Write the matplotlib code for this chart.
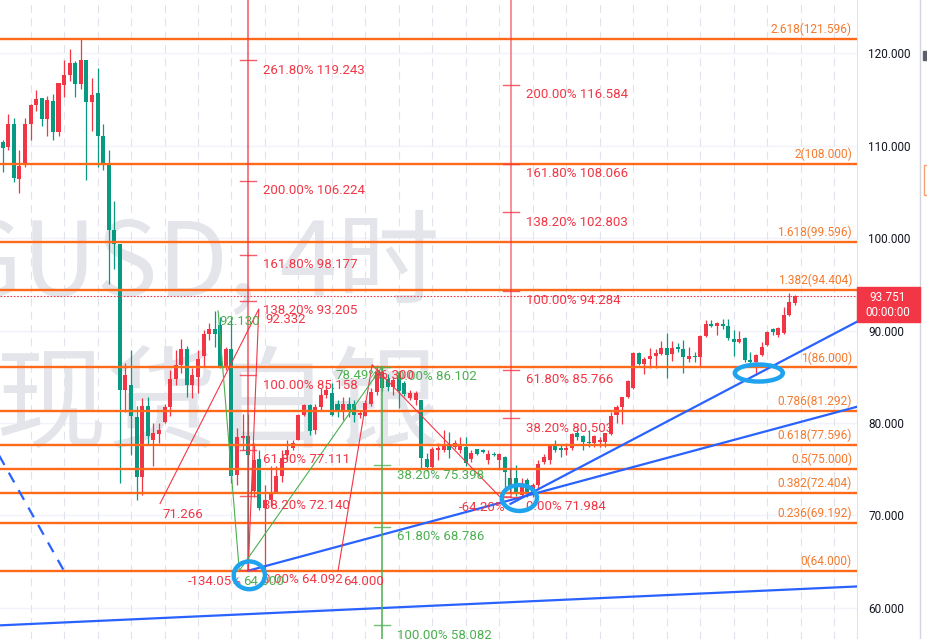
import matplotlib.pyplot as plt
from matplotlib.patches import Ellipse, Rectangle

# 4h candles, bar 0 = left edge
opens = [110.4, 109.9, 112.4, 106.4, 107.9, 112.4, 114.4, 115.2, 112.9, 114.9,
         111.5, 116.6, 117.7, 119.0, 116.7, 119.3, 114.7, 115.75, 111.1, 107.9,
         100.9, 99.4, 83.6, 84.1, 80.6, 74.1, 81.8, 78.2, 78.8, 80.1,
         81.7, 84.8, 86.3, 88.0, 84.1, 85.0, 87.2, 89.6, 90.2, 90.6,
         85.9, 88.0, 74.4, 78.4, 78.6, 72.6, 76.06, 70.8, 71.7, 72.4,
         74.2, 76.5, 77.25, 78.2, 80.9, 81.9, 79.2, 81.7, 83.0, 83.2,
         82.05, 81.2, 82.1, 82.1, 80.9, 80.8, 82.1, 83.4, 85.55, 84.8,
         83.85, 85.18, 84.28, 82.73, 82.48, 82.48, 76.05, 75.26, 77.1, 77.06,
         77.6, 77.42, 77.1, 77.35, 76.05, 77.13, 77.1, 75.98, 76.6, 75.98,
         76.34, 74.0, 73.99, 72.19, 73.8, 72.4, 73.3, 75.8, 76.0, 77.6,
         77.3, 77.07, 77.25, 78.9, 78.6, 77.97, 77.86, 77.9, 77.97, 78.8,
         80.86, 81.7, 82.77, 83.75, 87.6, 86.38, 86.9, 87.25, 87.5, 88.08,
         87.46, 88.2, 87.96, 86.97, 87.2, 87.1, 89.41, 90.7, 90.5, 90.7,
         90.49, 89.05, 88.8, 89.15, 86.81, 86.63, 87.35, 88.43, 90.13, 89.52,
         89.7, 91.68, 93.0]
highs = [110.6, 113.4, 113.0, 109.5, 113.0, 114.5, 116.0, 115.2, 115.4, 115.6,
         116.8, 119.3, 120.5, 119.2, 121.6, 119.3, 117.3, 118.4, 112.4, 109.5,
         104.0, 99.4, 86.5, 87.9, 81.8, 82.7, 82.8, 80.0, 80.0, 82.1,
         85.7, 87.9, 89.05, 88.3, 85.9, 87.9, 90.1, 90.8, 92.13, 91.5,
         88.25, 91.5, 79.4, 81.0, 81.0, 77.8, 77.07, 73.3, 75.3, 75.3,
         77.07, 78.2, 78.2, 81.0, 82.1, 82.1, 82.1, 83.75, 84.1, 84.3,
         82.5, 82.8, 82.8, 82.5, 81.3, 82.5, 83.75, 86.27, 86.2, 85.3,
         85.0, 85.54, 84.5, 83.6, 83.5, 82.48, 76.7, 77.4, 77.8, 79.2,
         79.0, 78.2, 78.5, 78.5, 77.1, 77.2, 77.2, 77.1, 76.8, 76.7,
         76.4, 75.0, 75.4, 74.0, 74.0, 73.5, 76.0, 76.6, 77.7, 78.1,
         77.6, 77.8, 78.95, 79.3, 78.7, 79.2, 78.7, 78.5, 78.95, 81.2,
         81.94, 82.8, 84.7, 87.7, 87.7, 87.1, 88.08, 87.97, 88.9, 89.77,
         88.9, 88.7, 88.97, 88.2, 87.7, 89.5, 91.1, 91.1, 90.95, 91.2,
         91.2, 90.06, 89.99, 89.26, 87.7, 87.46, 88.8, 89.99, 90.24, 90.42,
         92.58, 94.1, 93.85]
lows = [107.2, 109.5, 106.1, 104.9, 107.7, 110.6, 113.8, 112.1, 111.1, 110.6,
        111.1, 115.3, 117.05, 115.3, 116.2, 106.3, 111.6, 107.7, 107.4, 95.0,
        96.7, 73.5, 81.2, 76.5, 71.7, 72.2, 77.6, 75.3, 77.8, 80.0,
        80.75, 84.1, 85.4, 82.8, 82.7, 83.2, 86.1, 89.0, 88.25, 85.9,
        85.7, 73.5, 73.3, 77.1, 64.0, 72.0, 70.57, 64.09, 71.0, 72.4,
        73.6, 76.0, 77.1, 78.1, 80.7, 78.7, 78.8, 81.3, 82.7, 80.7,
        80.6, 80.3, 80.6, 80.1, 80.5, 80.7, 81.8, 83.0, 83.5, 83.5,
        83.0, 81.57, 82.9, 82.5, 81.9, 75.08, 74.8, 74.97, 76.0, 76.8,
        76.2, 77.2, 76.7, 75.3, 75.8, 76.5, 76.7, 75.6, 76.4, 74.9,
        72.73, 72.5, 72.1, 72.0, 72.0, 72.0, 73.0, 75.5, 75.6, 76.9,
        76.3, 76.5, 77.07, 78.2, 77.07, 77.4, 77.4, 77.4, 77.4, 78.7,
        79.96, 79.9, 82.66, 83.64, 86.3, 85.3, 85.9, 85.9, 87.35, 84.9,
        86.7, 87.7, 85.44, 86.6, 86.6, 86.2, 89.3, 90.4, 89.5, 90.2,
        88.97, 87.2, 88.6, 86.6, 86.0, 85.19, 87.24, 88.3, 89.52, 89.26,
        89.62, 91.57, 92.76]
closes = [109.8, 112.4, 106.5, 107.8, 112.4, 114.4, 115.1, 112.9, 115.0, 111.5,
          116.8, 117.7, 119.0, 116.7, 119.3, 114.7, 115.5, 111.1, 107.9, 100.9,
          99.4, 83.6, 85.2, 80.7, 74.1, 81.8, 78.6, 78.9, 79.2, 81.7,
          84.8, 86.3, 88.0, 84.1, 85.2, 86.9, 89.6, 90.2, 89.6, 86.0,
          88.0, 74.2, 78.5, 78.6, 76.5, 76.0, 70.75, 71.7, 72.4, 74.3,
          76.2, 77.1, 77.8, 80.9, 81.9, 79.1, 81.7, 83.0, 83.6, 80.9,
          81.2, 82.1, 81.4, 80.9, 81.1, 82.2, 83.4, 85.55, 83.75, 83.85,
          84.6, 83.5, 83.09, 83.27, 83.27, 76.16, 75.19, 77.13, 77.3, 77.6,
          77.06, 77.78, 77.5, 75.62, 76.7, 76.63, 76.8, 76.63, 76.5, 76.63,
          74.72, 73.2, 72.3, 73.17, 72.3, 73.3, 75.6, 76.3, 77.6, 77.07,
          77.1, 77.25, 78.77, 78.5, 77.97, 77.8, 78.6, 78.1, 78.9, 80.75,
          81.7, 82.77, 84.5, 87.6, 86.38, 86.9, 87.25, 87.6, 88.08, 87.35,
          88.08, 88.0, 87.1, 87.2, 87.1, 89.41, 90.7, 90.5, 90.8, 90.5,
          89.15, 88.8, 89.05, 86.81, 86.63, 87.35, 88.25, 89.88, 89.8, 90.24,
          91.68, 93.12, 93.751]

# orange fib retracement levels
fib_prices = [121.596, 108.0, 99.596, 94.404, 86.0, 81.292, 77.596, 75.0, 72.404, 69.192, 64.0]
fib_labels = ['2.618(121.596)', '2(108.000)', '1.618(99.596)', '1.382(94.404)', '1(86.000)',
              '0.786(81.292)', '0.618(77.596)', '0.5(75.000)', '0.382(72.404)', '0.236(69.192)', '0(64.000)']

# red trend-based extension #1 (bar, price)
ext1_bars = [28.2, 45.9, 44.0]
ext1_prices = [71.266, 92.332, 64.092]
ext1_levels = [64.092, 72.140, 77.111, 85.158, 93.205, 98.177, 106.224, 119.243]
ext1_texts = ['0.00% 64.092', '38.20% 72.140', '61.80% 77.111', '100.00% 85.158',
              '138.20% 93.205', '161.80% 98.177', '200.00% 106.224', '261.80% 119.243']

# red trend-based extension #2
ext2_bars = [60.1, 66.2, 89.1, 91.1]
ext2_prices = [64.0, 86.3, 72.0, 71.984]
ext2_levels = [71.984, 80.503, 85.766, 94.284, 102.803, 108.066, 116.584]
ext2_texts = ['0.00% 71.984', '38.20% 80.503', '61.80% 85.766', '100.00% 94.284',
              '138.20% 102.803', '161.80% 108.066', '200.00% 116.584']

# green extension
ext3_bars = [38.6, 42.4, 68.0]
ext3_prices = [92.13, 64.0, 86.102]
ext3_levels = [86.102, 75.398, 68.786, 58.082]
ext3_texts = ['0.00% 86.102', '38.20% 75.398', '61.80% 68.786', '100.00% 58.082']

# blue trend lines (bar, price) pairs
trend_lines = [([-1.0, 154.0], [58.07, 62.32]),
               ([44.0, 153.1], [64.0, 81.75]),
               ([91.0, 153.1], [71.24, 90.96])]
dash_line = ([-1.0, 10.9], [76.86, 64.07])

# highlighted spots: (bar, price, width in bars, height in price)
circles = [(44.2, 63.5, 5.6, 3.0), (92.6, 71.87, 6.3, 2.8), (135.5, 85.4, 8.6, 1.84)]

last_price = 93.751
axis_ticks = [60, 70, 80, 90, 100, 110, 120]

UP = '#F23645'
DOWN = '#089981'
ORANGE = '#FF6A1A'
RED = '#F23645'
GREEN = '#4CAF50'
BLUE = '#2962FF'

plt.rcParams['font.family'] = ['Roboto', 'DejaVu Sans']

fig = plt.figure(figsize=(9.28, 6.39), dpi=100)
ax = fig.add_axes([0, 0, 857 / 928, 1])
x0, dx = 2.7, 5.58
ax.set_xlim(-x0 / dx, (857 - x0) / dx)
ax.set_ylim(56.607, 125.786)

# grid
for p in axis_ticks:
    ax.axhline(p, color='#F0F3FA', lw=1, zorder=0)
for i in range(5, 160, 6):
    ax.axvline(i, color='#E0E3EB', lw=0.8, ls=(0, (7, 5)), zorder=0)

# watermark (inside the axes so candles sit on top)
wm = dict(color='#E3E5EA', ha='right', va='center', zorder=0.5,
          family=['Noto Sans CJK SC', 'DejaVu Sans'], transform=fig.transFigure)
ax.text(440 / 928, 1 - 266 / 639, 'XAGUSD, 4时', fontsize=74, **wm)
ax.text(440 / 928, 1 - 408 / 639, '现货白银', fontsize=80, **wm)

# candles
for i in range(len(opens)):
    o, h, l, c = opens[i], highs[i], lows[i], closes[i]
    col = UP if c >= o else DOWN
    ax.vlines(i, l, h, color=col, lw=0.9, zorder=2)
    ax.bar(i, max(abs(c - o), 0.12), bottom=min(o, c), width=0.72, color=col, zorder=2, lw=0)

# orange levels
for p, lab in zip(fib_prices, fib_labels):
    ax.axhline(p, color=ORANGE, lw=1.7, zorder=3)
    ax.annotate(lab, xy=(152.2, p), xytext=(0, 2), textcoords='offset points',
                ha='right', va='bottom', color='#F47A2E', fontsize=8.6, zorder=5)

# current price line
ax.axhline(last_price, color=RED, lw=0.8, ls=(0, (1.5, 1.5)), zorder=3)

# blue lines
for bx, by in trend_lines:
    ax.plot(bx, by, color=BLUE, lw=1.6, zorder=4)
ax.plot(dash_line[0], dash_line[1], color=BLUE, lw=1.6, ls=(0, (5, 4)), zorder=4)


def ticks(bar, levels, texts, color, half=1.4, tx=2.6):
    for p, t in zip(levels, texts):
        ax.plot([bar - half, bar + half], [p, p], color=color, lw=1, alpha=0.8, zorder=4)
        ax.annotate(t, xy=(bar + tx, p), xytext=(0, -2.5), textcoords='offset points',
                    ha='left', va='top', color=color, fontsize=9.5, zorder=5)


# red extension 1
ax.plot(ext1_bars, ext1_prices, color=RED, lw=0.8, zorder=4)
ax.plot([ext1_bars[2], ext1_bars[2]], [ext1_prices[2], 126], color=RED, lw=1.1, alpha=0.85, zorder=4)
ticks(ext1_bars[2], ext1_levels, ext1_texts, RED)

# red extension 2
ax.plot(ext2_bars, ext2_prices, color=RED, lw=0.8, zorder=4)
ax.plot([ext2_bars[3], ext2_bars[3]], [ext2_prices[3], 126], color=RED, lw=1.1, alpha=0.7, zorder=4)
ticks(ext2_bars[3], ext2_levels, ext2_texts, RED)

# green extension
ax.plot(ext3_bars, ext3_prices, color=GREEN, lw=0.8, zorder=4)
ax.plot([ext3_bars[2], ext3_bars[2]], [ext3_prices[2], 56], color=GREEN, lw=1.1, zorder=4)
ticks(ext3_bars[2], ext3_levels, ext3_texts, GREEN)

# point labels
pt_labels = [(28.7, 71.266, '71.266', RED), (47.0, 92.332, '92.332', RED),
             (38.9, 92.13, '92.130', GREEN), (33.2, 64.0, '-134.05%', RED),
             (43.1, 64.0, '64.000', GREEN), (61.0, 64.0, '64.000', RED),
             (59.6, 86.3, '78.49%', GREEN), (66.4, 86.3, '86.300', RED),
             (81.8, 71.984, '-64.20%', RED)]
for bx, p, t, col in pt_labels:
    ax.annotate(t, xy=(bx, p), xytext=(0, -3), textcoords='offset points',
                ha='left', va='top', color=col, fontsize=9.5, zorder=5)

# circles
for cx, cy, w, h in circles:
    ax.add_patch(Ellipse((cx, cy), w, h, fill=False, ec='#1FA3EE', lw=3.2, zorder=6))

# right price axis
ax.yaxis.tick_right()
ax.set_yticks(axis_ticks)
ax.set_yticklabels(['%.3f' % t for t in axis_ticks])
ax.tick_params(axis='y', length=0, pad=8, labelsize=8.5, labelcolor='#131722')
ax.set_xticks([])
for s in ['top', 'bottom', 'left']:
    ax.spines[s].set_visible(False)
ax.spines['right'].set_color('#E0E3EB')

# price tag
fig.patches.append(Rectangle((857 / 928, 1 - 322 / 639), 63 / 928, 35 / 639,
                             transform=fig.transFigure, color=RED, zorder=5))
fig.text(888 / 928, 1 - 297 / 639, '%.3f' % last_price, color='white', fontsize=8.5,
         ha='center', va='center', zorder=6)
fig.text(888 / 928, 1 - 313 / 639, '00:00:00', color='white', fontsize=8.5,
         ha='center', va='center', zorder=6)

# right toolbar strip
fig.add_artist(plt.Line2D([920 / 928, 920 / 928], [0, 1], transform=fig.transFigure,
                          color='#D1D4DC', lw=1))
fig.patches.append(Rectangle((923 / 928, 1 - 60 / 639), 5 / 928, 9 / 639,
                             transform=fig.transFigure, color='#5D606B'))
fig.patches.append(Rectangle((924 / 928, 1 - 195 / 639), 5 / 928, 30 / 639,
                             transform=fig.transFigure, fill=False, ec='#F7A072', lw=1))

fig.savefig('out.png', dpi=100)
